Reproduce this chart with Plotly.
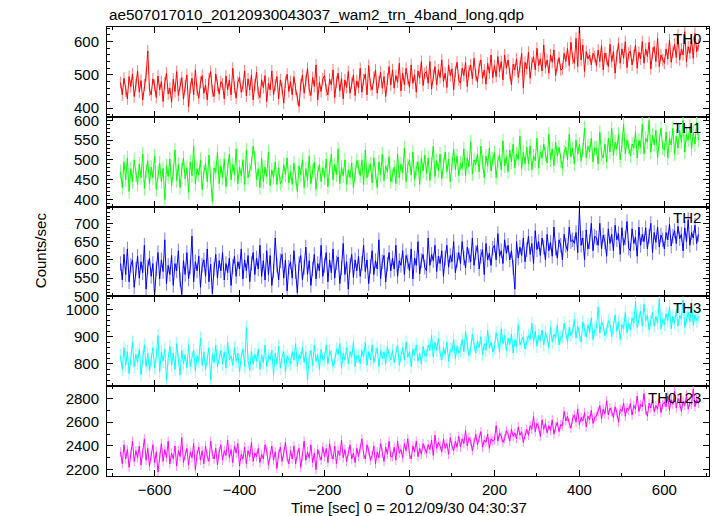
import numpy as np
import plotly.graph_objects as go

# time axis (seconds from 2012/09/30 04:30:37), 4 s bins
TIME = np.arange(-680, 681, 4)

TH0 = [
    477, 440, 490, 452, 428, 495, 465, 503, 435, 470, 512, 448, 483, 425, 470, 498, 572, 455, 440, 488,
    468, 432, 497, 455, 480, 420, 475, 505, 443, 460, 418, 487, 450, 510, 438, 472, 492, 427, 468, 500,
    405, 462, 490, 440, 515, 455, 430, 478, 498, 445, 470, 425, 488, 510, 452, 435, 503, 468, 442, 480,
    472, 428, 497, 455, 485, 440, 520, 463, 430, 478, 492, 448, 466, 512, 437, 488, 455, 500, 425, 470,
    508, 445, 432, 485, 462, 498, 420, 475, 455, 512, 440, 470, 495, 428, 485, 460, 415, 478, 502, 450,
    480, 440, 495, 458, 428, 405, 470, 500, 445, 482, 520, 455, 438, 492, 465, 530, 425, 478, 450, 488,
    498, 455, 440, 487, 470, 515, 432, 478, 505, 452, 490, 428, 485, 462, 510, 445, 475, 500, 438, 482,
    462, 520, 448, 485, 503, 440, 528, 470, 455, 492, 515, 445, 480, 508, 460, 495, 435, 488, 525, 470,
    515, 460, 498, 478, 535, 452, 505, 470, 520, 488, 462, 530, 475, 500, 448, 512, 490, 540, 468, 505,
    510, 475, 540, 458, 500, 525, 470, 515, 492, 545, 480, 505, 462, 530, 498, 518, 455, 510, 538, 485,
    475, 520, 498, 538, 465, 512, 530, 488, 550, 500, 478, 525, 545, 490, 515, 472, 535, 505, 560, 492,
    528, 495, 555, 510, 540, 485, 560, 520, 545, 505, 470, 532, 515, 548, 492, 525, 565, 460, 538, 518,
    568, 490, 535, 555, 515, 580, 528, 548, 512, 590, 522, 545, 505, 560, 538, 575, 498, 530, 552, 515,
    518, 565, 540, 580, 528, 598, 550, 535, 610, 525, 644, 545, 590, 510, 570, 548, 560, 530, 565, 555,
    528, 575, 540, 588, 515, 566, 548, 525, 592, 540, 570, 505, 558, 595, 535, 578, 550, 600, 522, 565,
    572, 530, 558, 590, 520, 568, 548, 600, 535, 578, 555, 598, 518, 565, 585, 540, 610, 525, 560, 545,
    535, 578, 548, 605, 538, 568, 592, 552, 620, 545, 578, 560, 630, 540, 585, 565, 605, 550, 625, 570, 590]

TH1 = [
    470, 430, 495, 450, 505, 420, 478, 445, 500, 462, 438, 490, 455, 515, 428, 472, 498, 440, 482, 455,
    510, 425, 468, 492, 445, 478, 400, 485, 458, 502, 435, 470, 525, 448, 488, 430, 475, 505, 452, 480,
    418, 495, 460, 535, 440, 478, 462, 500, 425, 470, 490, 445, 512, 458, 395, 480, 468, 520, 440, 485,
    455, 502, 432, 478, 515, 450, 488, 462, 528, 440, 482, 460, 500, 438, 525, 455, 475, 490, 535, 505,
    450, 478, 430, 505, 445, 482, 458, 520, 435, 475, 455, 495, 438, 480, 440, 448, 488, 462, 505, 442,
    470, 438, 492, 455, 420, 485, 462, 500, 430, 478, 448, 510, 440, 472, 495, 425, 468, 488, 445, 480,
    455, 502, 432, 478, 515, 450, 488, 462, 528, 440, 482, 460, 500, 438, 475, 455, 492, 430, 470, 498,
    482, 460, 500, 438, 525, 455, 475, 490, 442, 505, 468, 430, 495, 462, 515, 448, 485, 470, 508, 445,
    460, 482, 440, 515, 455, 490, 468, 530, 445, 485, 500, 462, 520, 450, 478, 495, 438, 505, 472, 512,
    465, 505, 448, 490, 535, 458, 498, 472, 515, 452, 488, 520, 470, 502, 445, 492, 528, 475, 510, 460,
    492, 478, 528, 460, 505, 482, 545, 465, 500, 488, 515, 470, 535, 495, 455, 510, 485, 530, 472, 502,
    518, 455, 498, 512, 475, 548, 485, 508, 470, 525, 495, 540, 480, 515, 502, 560, 478, 520, 490, 532,
    490, 535, 475, 510, 498, 555, 480, 520, 505, 540, 515, 492, 565, 500, 528, 485, 545, 510, 532, 498,
    478, 520, 532, 500, 565, 508, 530, 490, 550, 515, 540, 498, 525, 580, 505, 535, 520, 555, 495, 530,
    530, 490, 570, 515, 505, 540, 495, 555, 520, 580, 510, 545, 528, 565, 500, 538, 590, 515, 550, 532,
    510, 540, 530, 570, 505, 550, 532, 590, 515, 555, 545, 600, 520, 562, 538, 575, 505, 548, 580, 530,
    525, 570, 505, 555, 538, 580, 515, 560, 530, 575, 545, 600, 520, 565, 550, 585, 528, 570, 540, 595, 550]

TH2 = [
    590, 545, 615, 560, 630, 540, 585, 600, 525, 575, 610, 550, 595, 565, 640, 520, 580, 605, 555, 590,
    500, 575, 620, 548, 600, 568, 655, 535, 585, 560, 612, 530, 590, 570, 625, 545, 505, 598, 560, 620,
    548, 580, 665, 540, 595, 570, 610, 525, 585, 600, 555, 630, 540, 588, 508, 575, 615, 550, 598, 570,
    620, 545, 590, 565, 605, 530, 582, 610, 555, 595, 575, 630, 548, 600, 570, 612, 540, 590, 620, 560,
    605, 575, 640, 555, 598, 545, 625, 560, 612, 530, 570, 660, 585, 545, 598, 615, 550, 600, 515, 580,
    595, 550, 625, 568, 510, 590, 612, 545, 580, 635, 560, 598, 530, 575, 615, 548, 590, 570, 640, 555,
    585, 620, 540, 600, 565, 630, 550, 592, 608, 535, 578, 645, 560, 595, 520, 585, 615, 552, 600, 570,
    610, 555, 590, 640, 568, 600, 535, 582, 625, 560, 598, 575, 655, 548, 595, 612, 540, 588, 620, 570,
    605, 575, 640, 555, 598, 585, 625, 560, 612, 595, 570, 630, 548, 605, 585, 650, 562, 598, 615, 580,
    570, 660, 585, 615, 598, 640, 568, 610, 590, 625, 555, 605, 640, 580, 612, 595, 650, 565, 600, 620,
    590, 650, 605, 578, 635, 612, 595, 660, 585, 620, 640, 575, 610, 628, 560, 645, 600, 618, 585, 632,
    640, 600, 672, 610, 625, 590, 655, 618, 640, 600, 625, 580, 520, 650, 605, 635, 612, 660, 595, 628,
    665, 615, 645, 590, 680, 628, 650, 612, 660, 635, 600, 670, 625, 648, 610, 690, 632, 605, 655, 640,
    600, 670, 640, 625, 690, 650, 655, 645, 675, 620, 735, 640, 660, 600, 682, 630, 650, 700, 625, 665,
    660, 640, 700, 630, 668, 650, 610, 685, 645, 670, 625, 695, 655, 672, 615, 688, 640, 660, 705, 632,
    625, 685, 645, 662, 610, 690, 640, 670, 650, 688, 630, 665, 700, 620, 675, 648, 690, 635, 668, 655,
    630, 675, 655, 698, 638, 665, 680, 645, 692, 658, 670, 625, 688, 650, 710, 640, 675, 660, 695, 645, 670]

TH3 = [
    830, 780, 860, 795, 845, 765, 820, 880, 790, 835, 805, 855, 760, 825, 870, 790, 840, 775, 815, 860,
    785, 830, 905, 770, 845, 810, 855, 740, 820, 865, 795, 840, 780, 875, 815, 760, 850, 800, 835, 785,
    870, 790, 825, 850, 775, 830, 810, 895, 795, 845, 780, 820, 860, 740, 835, 805, 870, 790, 825, 850,
    800, 845, 785, 880, 815, 830, 795, 860, 810, 840, 770, 828, 855, 790, 935, 812, 775, 848, 800, 835,
    810, 855, 780, 835, 805, 870, 790, 830, 815, 850, 760, 840, 800, 865, 785, 825, 845, 770, 830, 812,
    800, 845, 815, 875, 790, 835, 820, 860, 805, 845, 740, 825, 850, 795, 870, 810, 835, 780, 855, 815,
    820, 870, 800, 850, 830, 790, 810, 855, 835, 875, 785, 840, 815, 860, 800, 845, 825, 880, 790, 830,
    830, 800, 850, 825, 880, 795, 845, 815, 870, 805, 835, 860, 790, 850, 820, 845, 800, 865, 830, 815,
    850, 805, 840, 870, 795, 830, 860, 815, 880, 825, 845, 790, 855, 835, 870, 810, 840, 800, 865, 830,
    830, 870, 850, 905, 825, 880, 850, 895, 840, 815, 860, 835, 880, 810, 855, 845, 890, 820, 865, 840,
    850, 890, 845, 920, 865, 830, 855, 910, 870, 840, 885, 860, 900, 835, 875, 850, 925, 860, 880, 845,
    860, 915, 885, 845, 930, 875, 905, 850, 895, 870, 910, 840, 890, 865, 945, 870, 885, 900, 855, 880,
    905, 890, 950, 880, 920, 865, 905, 885, 925, 870, 915, 895, 860, 935, 880, 910, 895, 945, 870, 900,
    900, 950, 915, 880, 935, 905, 920, 965, 895, 940, 910, 880, 955, 925, 900, 945, 915, 970, 890, 925,
    930, 1010, 915, 955, 940, 905, 920, 960, 945, 900, 935, 980, 920, 955, 890, 945, 930, 990, 915, 950,
    925, 970, 950, 1030, 935, 965, 995, 940, 1020, 960, 980, 925, 955, 990, 940, 975, 950, 1040, 930, 965,
    945, 985, 960, 1010, 930, 975, 950, 1000, 940, 980, 965, 1035, 935, 970, 990, 955, 1015, 945, 980, 960, 975]

TH0123 = [
    2350, 2250, 2410, 2290, 2370, 2220, 2330, 2440, 2270, 2360, 2300, 2400, 2240, 2340, 2460, 2280, 2380, 2230, 2320, 2410,
    2260, 2350, 2180, 2310, 2420, 2270, 2370, 2300, 2440, 2250, 2340, 2290, 2400, 2230, 2360, 2310, 2470, 2260, 2330, 2380,
    2240, 2350, 2300, 2420, 2200, 2330, 2390, 2280, 2360, 2250, 2400, 2310, 2270, 2440, 2330, 2290, 2380, 2240, 2350, 2410,
    2280, 2360, 2320, 2450, 2300, 2370, 2260, 2400, 2340, 2420, 2230, 2330, 2290, 2390, 2250, 2360, 2310, 2430, 2270, 2340,
    2310, 2380, 2260, 2330, 2290, 2410, 2360, 2240, 2320, 2400, 2280, 2350, 2210, 2330, 2390, 2270, 2340, 2430, 2300, 2250,
    2360, 2290, 2400, 2250, 2330, 2380, 2220, 2310, 2440, 2280, 2350, 2300, 2410, 2260, 2340, 2200, 2370, 2320, 2280, 2390,
    2310, 2380, 2260, 2420, 2330, 2290, 2400, 2250, 2360, 2320, 2450, 2300, 2370, 2270, 2350, 2410, 2290, 2340, 2260, 2380,
    2310, 2380, 2460, 2330, 2290, 2410, 2360, 2280, 2320, 2400, 2250, 2350, 2300, 2420, 2340, 2270, 2390, 2330, 2440, 2310,
    2310, 2390, 2280, 2440, 2340, 2370, 2300, 2420, 2360, 2460, 2330, 2290, 2400, 2350, 2440, 2310, 2380, 2330, 2420, 2370,
    2340, 2410, 2370, 2450, 2320, 2490, 2380, 2430, 2400, 2350, 2460, 2380, 2420, 2330, 2470, 2400, 2360, 2440, 2390, 2480,
    2390, 2460, 2420, 2530, 2400, 2470, 2440, 2360, 2430, 2500, 2410, 2470, 2520, 2390, 2450, 2430, 2500, 2380, 2460, 2440,
    2450, 2570, 2440, 2510, 2480, 2430, 2460, 2530, 2500, 2440, 2540, 2480, 2510, 2460, 2560, 2490, 2520, 2430, 2500, 2540,
    2490, 2570, 2540, 2650, 2520, 2590, 2560, 2480, 2620, 2540, 2590, 2510, 2570, 2530, 2620, 2500, 2560, 2600, 2520, 2580,
    2570, 2690, 2610, 2650, 2590, 2550, 2630, 2660, 2600, 2710, 2580, 2640, 2610, 2680, 2560, 2650, 2620, 2700, 2590, 2640,
    2650, 2690, 2740, 2630, 2710, 2670, 2780, 2660, 2720, 2690, 2640, 2730, 2680, 2600, 2710, 2690, 2760, 2650, 2720, 2700,
    2760, 2660, 2740, 2710, 2820, 2690, 2750, 2730, 2840, 2700, 2650, 2760, 2720, 2790, 2690, 2740, 2710, 2800, 2680, 2750,
    2770, 2730, 2820, 2700, 2790, 2750, 2860, 2720, 2800, 2760, 2690, 2780, 2740, 2830, 2710, 2770, 2750, 2880, 2730, 2790, 2760]

# typical 1-sigma error of each band (counts/sec)
ERRORS = [18, 18, 20, 25, 40]

NAMES = ["TH0", "TH1", "TH2", "TH3", "TH0123"]
SERIES = [TH0, TH1, TH2, TH3, TH0123]
for _nm, _s in zip(NAMES, SERIES):
    assert len(_s) == len(TIME), (_nm, len(_s), len(TIME))

COLORS = ["#ff0000", "#00ff00", "#0000ff", "#00ffff", "#ff00ff"]
PALE = ["#ff7a7a", "#7aff7a", "#7a7aff", "#8affff", "#ff8aff"]
YRANGES = [[374, 644], [382, 609], [500, 746], [718, 1049], [2147, 2903]]
YDTICK = [100, 50, 50, 100, 200]
YMINOR = [20, 10, 10, 20, 100]

TITLE = "ae507017010_20120930043037_wam2_trn_4band_long.qdp"
XLABEL = "Time [sec] 0 = 2012/09/30 04:30:37"
YLABEL = "Counts/sec"

FONT = "Liberation Sans, Arial, Helvetica, sans-serif"
W, H = 717, 516
ML, MR, MT, MB = 107, 8, 27, 40
PH = H - MT - MB
PW = W - ML - MR

fig = go.Figure()
n = len(SERIES)
layout = {}
for i in range(n):
    k = i + 1
    sfx = "" if k == 1 else str(k)
    fig.add_trace(go.Scatter(
        x=TIME, y=SERIES[i], mode="lines",
        line=dict(color=COLORS[i], width=1),
        error_y=dict(type="constant", value=ERRORS[i], thickness=1, width=0, color=PALE[i]),
        xaxis="x" + sfx, yaxis="y" + sfx, name=NAMES[i],
    ))
    top = 1 - i / n
    bot = 1 - (i + 1) / n
    xa = dict(
        domain=[0, 1], anchor="y" + sfx, range=[-712, 705],
        tick0=0, dtick=200, ticks="inside", ticklen=6, tickwidth=1, tickcolor="black",
        minor=dict(dtick=100, ticks="inside", ticklen=3, tickcolor="black", showgrid=False),
        showline=True, linecolor="black", linewidth=1, mirror="ticks",
        showgrid=False, zeroline=False,
        showticklabels=(k == n),
        tickfont=dict(family=FONT, size=15, color="black"),
    )
    if k > 1:
        xa["matches"] = "x"
    ya = dict(
        domain=[bot, top], anchor="x" + sfx, range=YRANGES[i],
        tick0=0, dtick=YDTICK[i], ticks="inside", ticklen=6, tickwidth=1, tickcolor="black",
        minor=dict(dtick=YMINOR[i], ticks="inside", ticklen=3, tickcolor="black", showgrid=False),
        showline=True, linecolor="black", linewidth=1, mirror="ticks",
        showgrid=False, zeroline=False,
        tickfont=dict(family=FONT, size=15, color="black"),
        ticklabelstandoff=4,
    )
    layout["xaxis" + sfx] = xa
    layout["yaxis" + sfx] = ya

fig.update_layout(**layout)

ann = [
    dict(text=TITLE, x=0, y=1 + 13 / PH, xref="paper", yref="paper",
         xanchor="left", yanchor="middle", showarrow=False,
         font=dict(family=FONT, size=15.3, color="black")),
    dict(text=YLABEL, x=(40 - ML) / PW, y=0.503, xref="paper", yref="paper",
         xanchor="center", yanchor="middle", textangle=-90, showarrow=False,
         font=dict(family=FONT, size=15, color="black")),
    dict(text=XLABEL, x=(409 - ML) / PW, y=-(507 - (H - MB)) / PH, xref="paper", yref="paper",
         xanchor="center", yanchor="middle", showarrow=False,
         font=dict(family=FONT, size=15, color="black")),
]
for i in range(n):
    top = 1 - i / n
    ann.append(dict(text=NAMES[i], x=(703 - ML) / PW, y=top - 11 / PH,
                    xref="paper", yref="paper", xanchor="right", yanchor="middle",
                    showarrow=False, font=dict(family=FONT, size=15, color="black")))

fig.update_layout(
    width=W, height=H,
    margin=dict(l=ML, r=MR, t=MT, b=MB),
    paper_bgcolor="white", plot_bgcolor="white",
    showlegend=False,
    font=dict(family=FONT, size=15, color="black"),
    annotations=ann,
)

fig.write_html("out.html", config={"displayModeBar": False},
               post_script="document.body.style.margin='0';")
